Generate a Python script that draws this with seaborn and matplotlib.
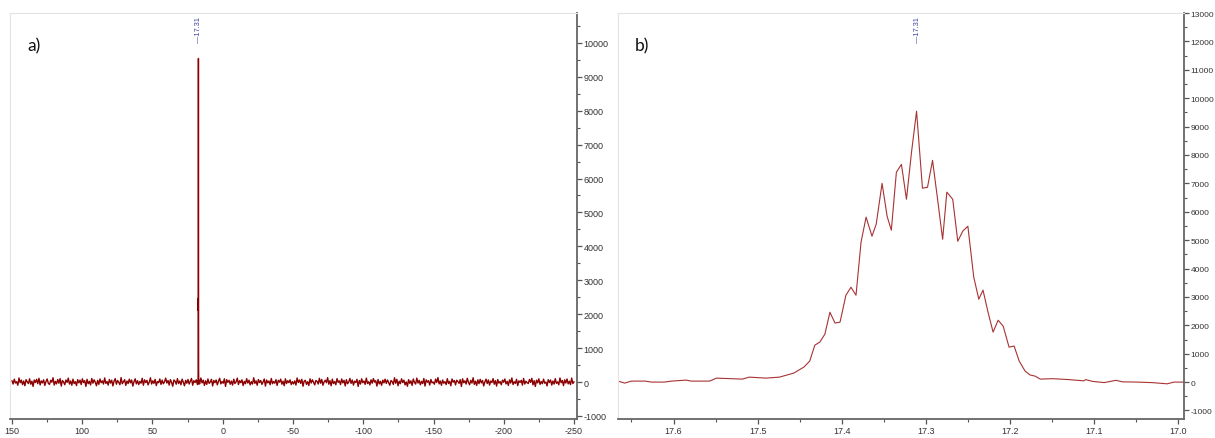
import numpy as np
import pandas as pd
import matplotlib
matplotlib.use("Agg")
import matplotlib.pyplot as plt
import seaborn as sns
from matplotlib.ticker import MultipleLocator

sns.set_style("white")
plt.rcParams['font.family'] = ['Liberation Sans', 'DejaVu Sans']

# ---- data ----
peak_label = "17.31"
peak_pos = 17.31

# zoomed peak (panel b), ppm and intensity
peak_ppm = [17.666, 17.658, 17.650, 17.634, 17.626, 17.611, 17.602, 17.585, 17.579, 17.557,
            17.549, 17.518, 17.510, 17.490, 17.474, 17.457, 17.445, 17.438, 17.432, 17.426,
            17.420, 17.414, 17.408, 17.402, 17.395, 17.389, 17.383, 17.377, 17.371, 17.364,
            17.359, 17.352, 17.346, 17.341, 17.335, 17.329, 17.323, 17.317, 17.311, 17.304,
            17.298, 17.292, 17.286, 17.280, 17.275, 17.268, 17.262, 17.256, 17.250, 17.243,
            17.237, 17.232, 17.226, 17.220, 17.214, 17.208, 17.201, 17.195, 17.189, 17.182,
            17.176, 17.170, 17.164, 17.149, 17.131, 17.112, 17.110, 17.102, 17.088, 17.074,
            17.066, 17.048, 17.030, 17.013, 17.005, 16.993]
peak_int = [35, -35, 35, 35, 0, 0, 35, 70, 35, 35,
            140, 105, 175, 140, 175, 317, 528, 740, 1300, 1410,
            1690, 2460, 2080, 2110, 3060, 3340, 3060, 4930, 5810, 5140,
            5560, 7000, 5840, 5350, 7390, 7670, 6440, 8100, 9540, 6830,
            6860, 7810, 6440, 5030, 6690, 6440, 4960, 5320, 5490, 3700,
            2920, 3240, 2460, 1760, 2180, 1970, 1230, 1270, 740, 390,
            250, 210, 105, 120, 90, 44, 88, 26, -18, 61,
            9, 0, -20, -61, 0, 0]

# baseline noise of the full spectrum (panel a), 150 .. -250 ppm
noise = [
 40,-60,85,-30,10,-95,120,-20,55,-75,30,-110,70,5,-45,95,-65,25,-130,60,
 -15,80,-50,110,-85,35,-25,65,-100,15,90,-40,-70,50,-5,125,-90,20,-55,75,
 -35,100,-120,45,0,-80,60,-10,115,-60,30,-95,85,-45,10,-105,70,-25,55,-75,
 95,-15,40,-130,80,-50,20,-85,105,-35,65,-5,-110,50,-70,90,-20,35,-60,120,
 -40,15,-90,75,-30,55,-115,25,100,-65,45,-10,-80,130,-50,5,70,-100,30,-45,
 85,-25,60,-120,10,95,-55,40,-75,20,-35,110,-95,65,-15,50,-85,0,125,-60,
 35,-40,80,-105,15,-20,90,-70,55,-50,5,115,-30,45,-90,70,-10,-125,60,25,
 -65,100,-45,30,-80,85,-5,-110,50,-35,75,-60,20,105,-95,40,-15,65,-75,10,
 -50,120,-25,55,-100,35,-70,90,-40,0,80,-115,45,-20,60,-85,25,110,-55,15,
 -35,95,-130,70,-10,50,-65,30,-90,85,-45,5,115,-75,40,-20,65,-105,20,-50,
 100,-30,55,-85,10,-60,125,-40,35,-95,75,-15,45,-70,0,90,-120,60,-25,30,
 -80,105,-50,15,-35,70,-100,50,-5,85,-65,25,-110,95,-45,40,-20,65,-75,10,
 -55,35,-90,120,-15,60,-40,80,-125,25,50,-70,10,-100,95,-30,65,-5,-85,45,
 20,-60,110,-35,75,-95,5,55,-20,130,-65,40,-110,85,-45,15,-80,100,-10,35,
 -75,90,-25,50,-115,70,-50,0,105,-40,60,-90,25,-15,80,-130,45,-60,95,-20,
 30,-70,115,-45,10,-85,65,-35,100,-5,40,-120,75,-55,20,-95,55,-25,85,-40,
 60,-20,-95,45,10,-70,125,-35,80,-110,25,-50,95,-15,55,-85,5,-125,70,-40,
 35,-100,90,-10,-60,115,-30,50,-80,20,-45,105,-120,65,-5,40,-90,75,-25,0,
 -65,85,-15,130,-55,30,-95,60,-35,10,-75,100,-45,20,-110,90,-5,45,-85,55,
 15,-40,70,-130,95,-20,35,-60,110,-10,-80,50,-30,125,-70,25,-100,65,-50,80,
 -25,45,-115,5,85,-45,60,-90,30,-15,100,-65,40,-120,75,-35,15,-80,55,-5,
 90,-55,20,-100,65,-30,120,-75,10,-40,80,-105,35,-10,50,-90,105,-60,25,-20,
 -45,75,-10,110,-85,40,-130,55,-25,95,-70,15,-50,85,-35,0,-115,70,-15,60,
 -90,30,-60,100,-40,5,-80,120,-20,45,-105,65,-30,90,-55,25,-75,115,-45,10]
full_start, full_end = 150, -250

xticks_a = [150, 100, 50, 0, -50, -100, -150, -200, -250]
xticks_b = [17.6, 17.5, 17.4, 17.3, 17.2, 17.1, 17.0]
yticks_a = list(range(-1000, 10001, 1000))
yticks_b = list(range(-1000, 13001, 1000))

# ---- build tables ----
noise_x = np.linspace(full_start, full_end, len(noise))
df_noise = pd.DataFrame({"ppm": noise_x, "intensity": noise})
df_noise = df_noise[(df_noise.ppm > max(peak_ppm)) | (df_noise.ppm < min(peak_ppm))]
df_peak = pd.DataFrame({"ppm": peak_ppm, "intensity": peak_int})
df_full = pd.concat([df_noise, df_peak]).sort_values("ppm", ascending=False)

fig = plt.figure(figsize=(12.15, 4.39), dpi=100)
ax_a = fig.add_axes([10/1215, 19/439, 567/1215, 406/439])
ax_b = fig.add_axes([618/1215, 19/439, 566/1215, 406/439])

sns.lineplot(data=df_full, x="ppm", y="intensity", ax=ax_a, estimator=None,
             sort=False, color="#8b0000", lw=1.0)
sns.lineplot(data=df_peak, x="ppm", y="intensity", ax=ax_b, estimator=None,
             sort=False, color="#a83232", lw=0.8)

ax_a.set_xlim(151.4, -252.1)
ax_a.set_ylim(-1090, 10880)
ax_b.set_xlim(17.666, 16.993)
ax_b.set_ylim(-1300, 13000)

for ax, xt, yt, xminor, lab, ysize in [(ax_a, xticks_a, yticks_a, 25, "a)", 6.5),
                                        (ax_b, xticks_b, yticks_b, 0.05, "b)", 6.0)]:
    ax.set_xlabel("")
    ax.set_ylabel("")
    ax.set_xticks(xt)
    ax.set_xticklabels([("%g" % v) if ax is ax_a else ("%.1f" % v) for v in xt])
    ax.xaxis.set_minor_locator(MultipleLocator(xminor))
    ax.set_yticks(yt)
    ax.set_yticklabels([str(v) for v in yt])
    ax.yaxis.set_minor_locator(MultipleLocator(500))
    ax.yaxis.tick_right()
    ax.tick_params(axis="both", which="major", direction="out", length=3.5, width=0.9,
                   color="#555555", labelsize=6.5, labelcolor="#333333", pad=1.2)
    ax.tick_params(axis="y", which="major", labelsize=ysize)
    ax.tick_params(axis="both", which="minor", direction="out", length=2.3, width=0.8,
                   color="#555555")
    ax.tick_params(axis="x", which="both", bottom=True)
    ax.tick_params(axis="y", which="both", right=True, left=False)
    for s in ["left", "top"]:
        ax.spines[s].set_color("#e4e4e4")
        ax.spines[s].set_linewidth(0.8)
    for s in ["right", "bottom"]:
        ax.spines[s].set_color("#666666")
        ax.spines[s].set_linewidth(1.3)
    ax.text(0.03, 0.92, lab, transform=ax.transAxes, fontsize=12.5,
            family=["Lato", "DejaVu Sans"], color="#111111", va="center", ha="left")
    ax.text(peak_pos, 0.992, "\u2014" + peak_label, transform=ax.get_xaxis_transform(),
            rotation=90, fontsize=5.3, color="#4040a8", ha="center", va="top")

fig.savefig("out.png", dpi=100, facecolor="white")
